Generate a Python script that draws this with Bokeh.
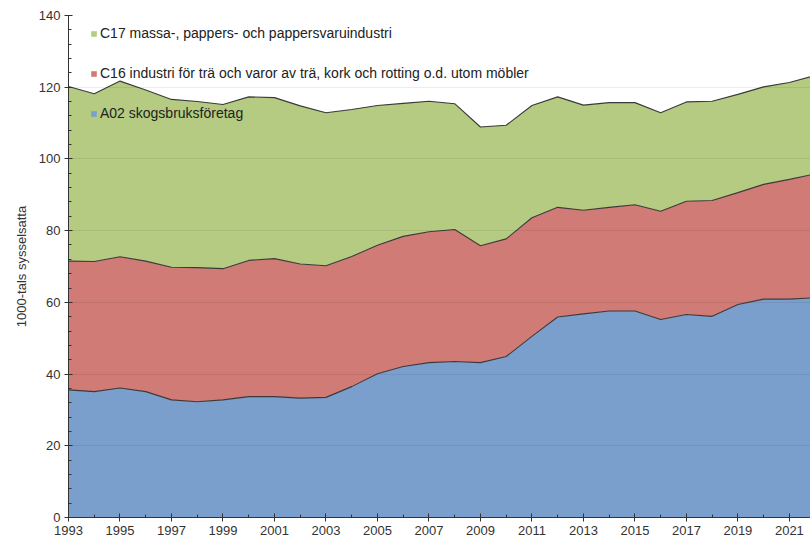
from bokeh.plotting import figure
from bokeh.models import ColumnDataSource, Range1d, FixedTicker, Legend, LegendItem
from bokeh.embed import file_html
from bokeh.resources import INLINE

years = list(range(1993, 2023))
a02 = [35.6, 35.1, 36.1, 35.1, 32.8, 32.3, 32.8, 33.7, 33.7, 33.3,
       33.5, 36.5, 40.1, 42.1, 43.2, 43.5, 43.2, 44.9, 50.5, 55.9,
       56.8, 57.6, 57.6, 55.2, 56.6, 56.1, 59.4, 60.9, 60.9, 61.3]
c16 = [35.9, 36.3, 36.6, 36.4, 37.0, 37.4, 36.6, 38.0, 38.5, 37.4,
       36.7, 36.3, 35.8, 36.3, 36.5, 36.8, 32.6, 32.8, 33.1, 30.6,
       28.9, 28.9, 29.6, 30.2, 31.6, 32.3, 31.2, 32.0, 33.4, 34.5]
c17 = [48.7, 46.8, 49.0, 47.7, 46.8, 46.3, 45.8, 45.6, 44.9, 44.1,
       42.7, 41.0, 39.0, 37.1, 36.4, 35.1, 33.1, 31.7, 31.3, 30.8,
       29.3, 29.2, 28.5, 27.5, 27.7, 27.7, 27.4, 27.2, 27.0, 27.5]

labels = ["A02 skogsbruksföretag",
          "C16 industri för trä och varor av trä, kork och rotting o.d. utom möbler",
          "C17 massa-, pappers- och pappersvaruindustri"]
colors = ["#7a9fcd", "#d07b76", "#b4cb81"]
major_years = list(range(1993, 2022, 2))
minor_years = list(range(1994, 2023, 2))
y_ticks = [0, 20, 40, 60, 80, 100, 120, 140]
y_title = "1000-tals sysselsatta"

src = ColumnDataSource(dict(year=years, a02=a02, c16=c16, c17=c17))
stackers = ["a02", "c16", "c17"]

p = figure(width=810, height=541, output_backend="svg", toolbar_location=None,
           x_range=Range1d(1993, 2021.82), y_range=Range1d(0, 140),
           min_border_left=68, min_border_right=0, min_border_top=15,
           min_border_bottom=24)
p.outline_line_color = None
p.background_fill_color = "white"
p.border_fill_color = "white"

areas = p.varea_stack(stackers=stackers, x="year", color=colors, source=src)
lines = p.vline_stack(stackers=stackers, x="year", color="#3a3a3a",
                      line_width=1.1, source=src)

font = "Liberation Sans"
p.xgrid.visible = False
p.ygrid.grid_line_color = "#000000"
p.ygrid.grid_line_alpha = 0.07
p.ygrid.level = "overlay"
p.ygrid.ticker = FixedTicker(ticks=y_ticks)

p.xaxis.ticker = FixedTicker(ticks=major_years, minor_ticks=minor_years)
p.yaxis.ticker = FixedTicker(ticks=y_ticks,
                             minor_ticks=[v for v in range(0, 141, 4)])
for ax in (p.xaxis[0], p.yaxis[0]):
    ax.axis_line_color = "#333333"
    ax.major_tick_line_color = "#333333"
    ax.minor_tick_line_color = "#333333"
    ax.major_label_text_font = font
    ax.major_label_text_font_size = "13px"
    ax.major_label_text_color = "#333333"
    ax.major_tick_in = 4
    ax.major_tick_out = 4
    ax.minor_tick_in = 3
    ax.minor_tick_out = 0
p.xaxis.major_label_standoff = 4
p.yaxis.major_label_standoff = 4
p.yaxis.axis_label = y_title
p.yaxis.axis_label_text_font = font
p.yaxis.axis_label_text_font_size = "13px"
p.yaxis.axis_label_text_font_style = "normal"
p.yaxis.axis_label_text_color = "#333333"
p.yaxis.axis_label_standoff = 7

items = [LegendItem(label=labels[i], renderers=[areas[i]]) for i in (2, 1, 0)]
legend = Legend(items=items, location=(22, 396), orientation="vertical",
                background_fill_alpha=0, border_line_color=None,
                padding=0, margin=0, spacing=24, label_height=16,
                glyph_width=7, glyph_height=7, label_standoff=3,
                label_text_font=font, label_text_font_size="14px",
                label_text_color="#222222")
p.add_layout(legend, "center")

open("out.html", "w").write(file_html(p, INLINE))
